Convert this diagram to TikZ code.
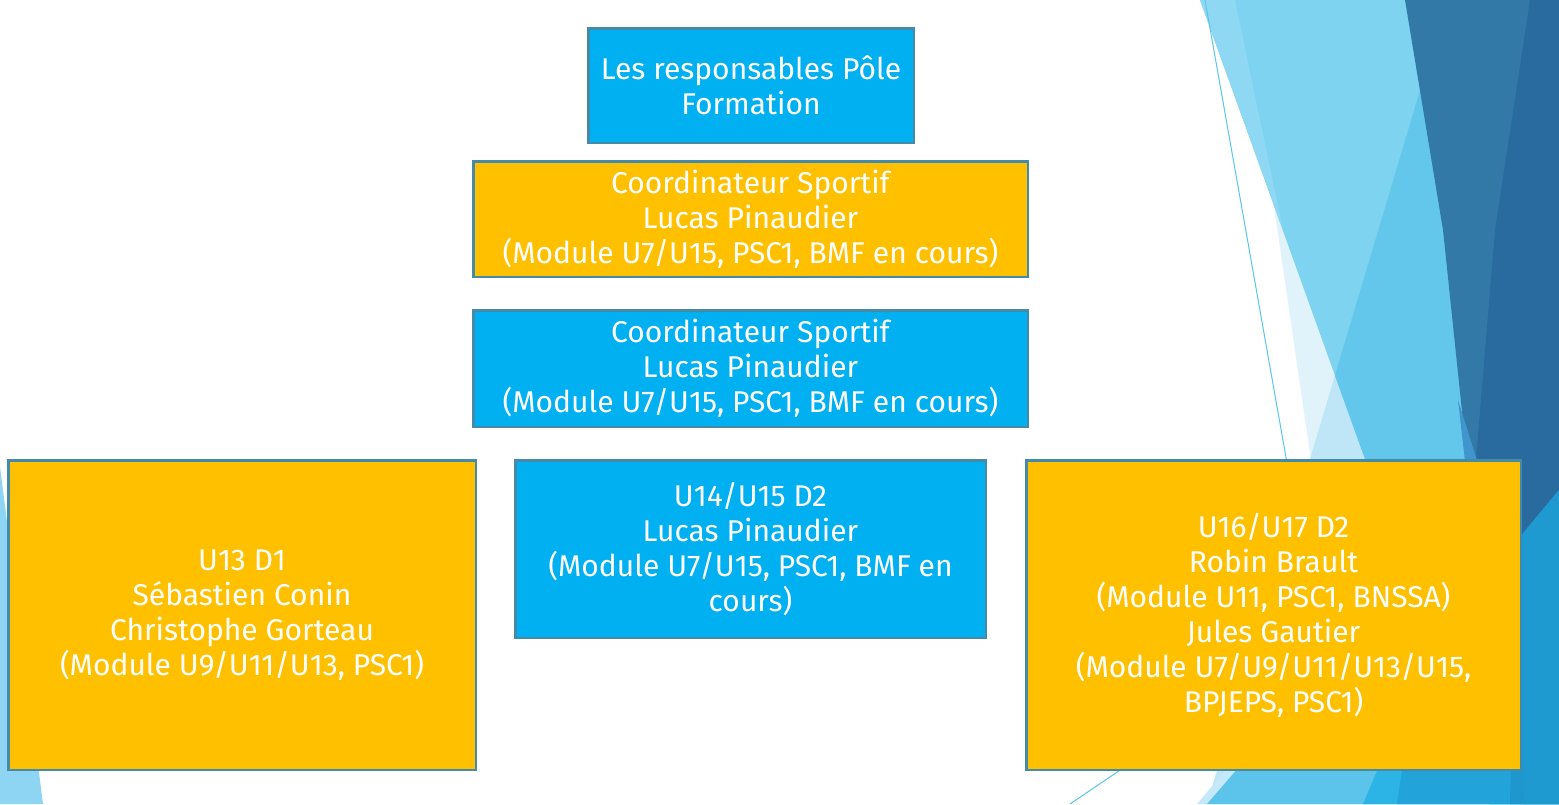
\documentclass[tikz,border=0pt]{standalone}
\usepackage{fontspec}
\setmainfont{Fira Sans}
\definecolor{boxblue}{RGB}{0,176,240}
\definecolor{boxorange}{RGB}{255,192,0}
\definecolor{boxline}{RGB}{70,138,170}
\definecolor{bgpale}{RGB}{224,243,251}
\definecolor{bgbonly}{RGB}{190,230,247}
\definecolor{bga}{RGB}{125,211,240}
\definecolor{bgab}{RGB}{99,199,235}
\definecolor{bgwedge}{RGB}{142,216,243}
\definecolor{bgdone}{RGB}{50,121,168}
\definecolor{bgdtwo}{RGB}{42,107,159}
\definecolor{bgsliver}{RGB}{63,149,204}
\definecolor{bgbright}{RGB}{31,154,208}
\definecolor{bgbotpale}{RGB}{197,233,248}
\definecolor{bgbotmed}{RGB}{92,195,234}
\definecolor{bgbotbright}{RGB}{43,180,229}
\definecolor{bgbotblue}{RGB}{34,164,219}
\definecolor{bgbotdark}{RGB}{30,151,207}
\definecolor{bgleft}{RGB}{141,213,243}
\definecolor{bgline}{RGB}{92,197,234}
\tikzset{
  orgbox/.style={rectangle, draw=boxline, line width=2.5pt, text=white, align=center,
    font=\fontsize{30}{35}\selectfont, inner sep=0pt},
  bluebox/.style={orgbox, fill=boxblue},
  yellowbox/.style={orgbox, fill=boxorange},
}
\begin{document}
\begin{tikzpicture}[x=1pt,y=-1pt]
\useasboundingbox (0,0) rectangle (1559,804);
\fill[white] (0,0) rectangle (1559,804);
% background facets
\fill[bgpale] (1244,0) -- (1559,0) -- (1559,804) -- (1361,804) -- cycle;
\fill[bgbonly] (1447,0) -- (1559,0) -- (1559,804) -- (1207,804) -- cycle;
\fill[bga] (1200,0) -- (1559,0) -- (1559,804) -- (1489,804) -- cycle;
\begin{scope}
  \clip (1200,0) -- (1559,0) -- (1559,804) -- (1489,804) -- cycle;
  \fill[bgab] (1447,0) -- (1559,0) -- (1559,804) -- (1207,804) -- cycle;
\end{scope}
\fill[bgwedge] (1200,0) -- (1235,0) -- (1283,230) -- cycle;
\fill[bgdone] (1405,0) -- (1559,0) -- (1559,490) -- (1500,560) -- (1467,459) -- (1443,230) -- cycle;
\fill[bgdtwo] (1530,0) -- (1559,0) -- (1559,490) -- (1510,550) -- (1476,459) -- (1495,230) -- cycle;
\fill[bgsliver] (1458,400) -- (1480,470) -- (1466,470) -- cycle;
\fill[bgbright] (1559,490) -- (1523,533) -- (1490,600) -- (1490,804) -- (1559,804) -- cycle;
\draw[bgline, line width=1pt] (1205,0) -- (1290,480);
% bottom strip
\fill[bgbotpale] (1197,804) -- (1285,700) -- (1559,700) -- (1559,804) -- cycle;
\fill[bgbotmed] (1207,804) -- (1297,700) -- (1559,700) -- (1559,804) -- cycle;
\fill[bgbotbright] (1363,804) -- (1380,764) -- (1400,700) -- (1559,700) -- (1559,804) -- cycle;
\fill[bgbotblue] (1397,804) -- (1403,764) -- (1412,700) -- (1559,700) -- (1559,804) -- cycle;
\fill[bgbotdark] (1510,804) -- (1512,700) -- (1559,700) -- (1559,804) -- cycle;
\fill[bgbright] (1522,700) -- (1559,700) -- (1559,804) -- (1524,804) -- cycle;
\draw[bgline, line width=1pt] (1070,804) -- (1135,760);
% left facet
\fill[bgleft] (0,467) -- (43,804) -- (0,804) -- cycle;
% boxes
\node[bluebox, minimum width=325.5pt, minimum height=114.5pt] (top) at (751,85.5)
  {Les responsables Pôle\\Formation};
\node[yellowbox, minimum width=554.5pt, minimum height=115.5pt] (coordA) at (750.5,219)
  {Coordinateur Sportif\\Lucas Pinaudier\\(Module U7/U15, PSC1, BMF en cours)};
\node[bluebox, minimum width=554.5pt, minimum height=116.5pt] (coordB) at (750.5,368.5)
  {Coordinateur Sportif\\Lucas Pinaudier\\(Module U7/U15, PSC1, BMF en cours)};
\node[yellowbox, minimum width=467.5pt, minimum height=309.5pt] (uthirteen) at (242,615)
  {U13 D1\\Sébastien Conin\\Christophe Gorteau\\(Module U9/U11/U13, PSC1)};
\node[bluebox, minimum width=470.5pt, minimum height=177.5pt] (ufifteen) at (750.5,549)
  {U14/U15 D2\\Lucas Pinaudier\\(Module U7/U15, PSC1, BMF en\\cours)};
\node[yellowbox, minimum width=494.5pt, minimum height=309.5pt] (useventeen) at (1273.5,615)
  {U16/U17 D2\\Robin Brault\\(Module U11, PSC1, BNSSA)\\Jules Gautier\\(Module U7/U9/U11/U13/U15,\\BPJEPS, PSC1)};
\end{tikzpicture}
\end{document}
